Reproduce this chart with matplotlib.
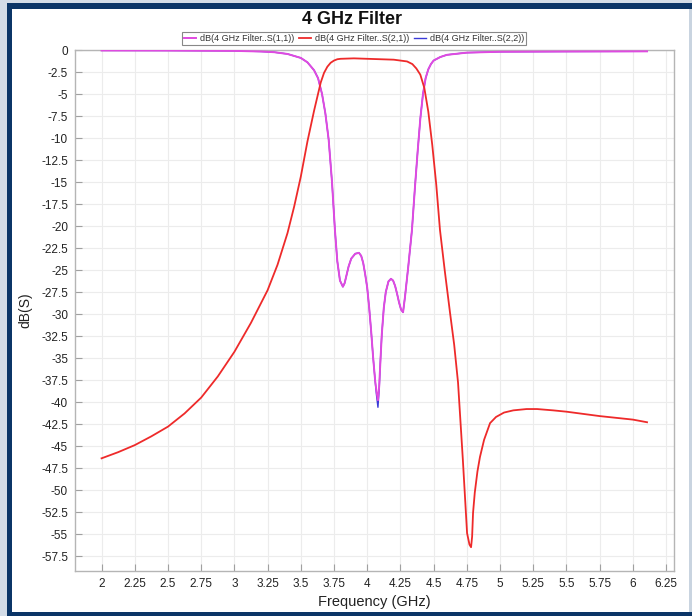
import matplotlib
matplotlib.use("Agg")
import matplotlib.pyplot as plt
from matplotlib.patches import Rectangle

# ---- data ----
freq_s21 = [2.0, 2.125, 2.25, 2.375, 2.5, 2.625, 2.75, 2.875, 3.0, 3.125, 3.25,
            3.325, 3.4, 3.45, 3.5, 3.55, 3.6, 3.65, 3.675, 3.7, 3.725, 3.75,
            3.775, 3.8, 3.9, 4.0, 4.1, 4.2, 4.3, 4.34, 4.37, 4.4, 4.43, 4.46,
            4.49, 4.52, 4.548, 4.585, 4.624, 4.655, 4.684, 4.72, 4.752, 4.77,
            4.782, 4.79, 4.797, 4.81, 4.83, 4.849, 4.88, 4.925, 4.97, 5.03, 5.1,
            5.2, 5.279, 5.4, 5.5, 5.75, 6.0, 6.107]
s21 = [-46.4, -45.7, -44.9, -43.9, -42.8, -41.3, -39.5, -37.1, -34.3, -31.0,
       -27.3, -24.4, -20.8, -17.8, -14.4, -10.4, -6.9, -3.7, -2.6, -1.9, -1.45,
       -1.2, -1.05, -1.0, -0.95, -1.0, -1.05, -1.1, -1.3, -1.6, -2.1, -2.8, -4.3,
       -7.0, -10.8, -15.3, -20.45, -25.2, -29.9, -33.5, -37.8, -46.5, -54.9,
       -56.2, -56.5, -55.3, -52.6, -50.3, -47.9, -46.25, -44.3, -42.4, -41.7,
       -41.2, -40.95, -40.8, -40.8, -40.95, -41.1, -41.6, -42.0, -42.3]

freq_s11 = [2.0, 2.5, 3.0, 3.2, 3.3, 3.4, 3.5, 3.55, 3.6, 3.63, 3.66, 3.685,
            3.71, 3.735, 3.757, 3.775, 3.795, 3.817, 3.83, 3.86, 3.88, 3.91,
            3.938, 3.955, 3.97, 3.985, 4.0, 4.015, 4.03, 4.045, 4.06, 4.07,
            4.081, 4.09, 4.1, 4.11, 4.125, 4.14, 4.16, 4.179, 4.195, 4.21,
            4.225, 4.24, 4.255, 4.27, 4.285, 4.31, 4.337, 4.36, 4.38, 4.4,
            4.42, 4.44, 4.46, 4.48, 4.5, 4.55, 4.6, 4.75, 5.0, 5.5, 6.107]
s11 = [-0.05, -0.06, -0.1, -0.17, -0.25, -0.45, -0.9, -1.4, -2.3, -3.2, -5.0,
       -7.2, -10.2, -15.0, -20.45, -24.0, -26.2, -26.9, -26.5, -24.6, -23.7,
       -23.15, -23.05, -23.4, -24.2, -25.5, -27.0, -29.3, -32.0, -35.0, -37.6,
       -38.8, -39.8, -38.3, -35.2, -32.3, -29.3, -27.5, -26.3, -26.0, -26.2,
       -26.8, -27.7, -28.7, -29.5, -29.8, -28.0, -24.5, -20.45, -15.5, -11.5,
       -7.8, -5.0, -3.2, -2.2, -1.6, -1.2, -0.8, -0.55, -0.3, -0.2, -0.17, -0.15]
s22 = [-0.05, -0.06, -0.1, -0.17, -0.25, -0.45, -0.9, -1.4, -2.3, -3.2, -5.0,
       -7.2, -10.2, -15.0, -20.45, -24.0, -26.2, -26.9, -26.5, -24.6, -23.7,
       -23.15, -23.05, -23.4, -24.2, -25.5, -27.0, -29.3, -32.0, -35.0, -37.6,
       -39.2, -40.6, -38.6, -35.2, -32.3, -29.3, -27.5, -26.3, -26.0, -26.2,
       -26.8, -27.7, -28.7, -29.5, -29.8, -28.0, -24.5, -20.45, -15.5, -11.5,
       -7.8, -5.0, -3.2, -2.2, -1.6, -1.2, -0.8, -0.55, -0.3, -0.2, -0.17, -0.15]

labels = ["dB(4 GHz Filter..S(1,1))", "dB(4 GHz Filter..S(2,1))",
          "dB(4 GHz Filter..S(2,2))"]
x_ticks = [2 + 0.25 * i for i in range(18)]
y_ticks = [-2.5 * i for i in range(24)]

W, H = 692, 616
plt.rcParams["font.family"] = ["Liberation Sans", "DejaVu Sans"]
plt.rcParams["axes.unicode_minus"] = False

fig = plt.figure(figsize=(W / 100, H / 100), dpi=100, facecolor="#d3dce7")


def px_rect(x0, y0, x1, y1, color):
    # rectangle given in image pixels (origin top-left)
    fig.patches.append(Rectangle((x0 / W, 1 - y1 / H), (x1 - x0) / W, (y1 - y0) / H,
                                 transform=fig.transFigure, facecolor=color,
                                 edgecolor="none", zorder=-10))


px_rect(7, 3, 692, 616, "#0b3567")
px_rect(12, 9, 689, 612, "white")
px_rect(689, 9, 692, 612, "#c9d4e0")

ax = fig.add_axes([75 / W, 1 - 570.7 / H, (674 - 75) / W, (570.7 - 50) / H])

ax.plot(freq_s11, s22, color="#3a3ad8", lw=1.0, zorder=2, label=labels[2])
ax.plot(freq_s11, s11, color="#e04ae0", lw=1.4, zorder=3, label=labels[0])
ax.plot(freq_s21, s21, color="#ee2a2a", lw=1.3, zorder=3, label=labels[1])

ax.set_xlim(1.80, 6.31)
ax.set_ylim(-59.17, 0)
ax.set_xticks(x_ticks)
ax.set_xticklabels([f"{v:g}" for v in x_ticks])
ax.set_yticks(y_ticks)
ax.set_yticklabels([f"{v:g}" if v != 0 else "0" for v in y_ticks])
ax.tick_params(direction="in", length=5, color="#a0a0a0", labelsize=8.5,
               labelcolor="#222222", pad=5)
ax.grid(color="#ececec", linewidth=0.8)
ax.set_axisbelow(True)
for s in ax.spines.values():
    s.set_color("#b5b5b5")
    s.set_linewidth(1.0)

ax.set_xlabel("Frequency (GHz)", fontsize=10.5, color="#222222", labelpad=4)
ax.set_ylabel("dB(S)", fontsize=10, color="#222222", labelpad=6)

fig.text(352 / W, 1 - 20 / H, "4 GHz Filter", ha="center", va="center",
         fontsize=13, fontweight="bold", color="#111111")

h, l = ax.get_legend_handles_labels()
order = [1, 2, 0]
leg = fig.legend([h[i] for i in order], [l[i] for i in order], loc="center",
                 bbox_to_anchor=(354 / W, 1 - 38.5 / H), ncol=3, fontsize=6.5,
                 handlelength=1.3, handletextpad=0.4, columnspacing=0.6,
                 borderpad=0.25, fancybox=False, edgecolor="#888888",
                 framealpha=1)
leg.get_frame().set_linewidth(0.8)
for t in leg.get_texts():
    t.set_color("#333333")

fig.savefig("out.png", dpi=100, facecolor=fig.get_facecolor())
